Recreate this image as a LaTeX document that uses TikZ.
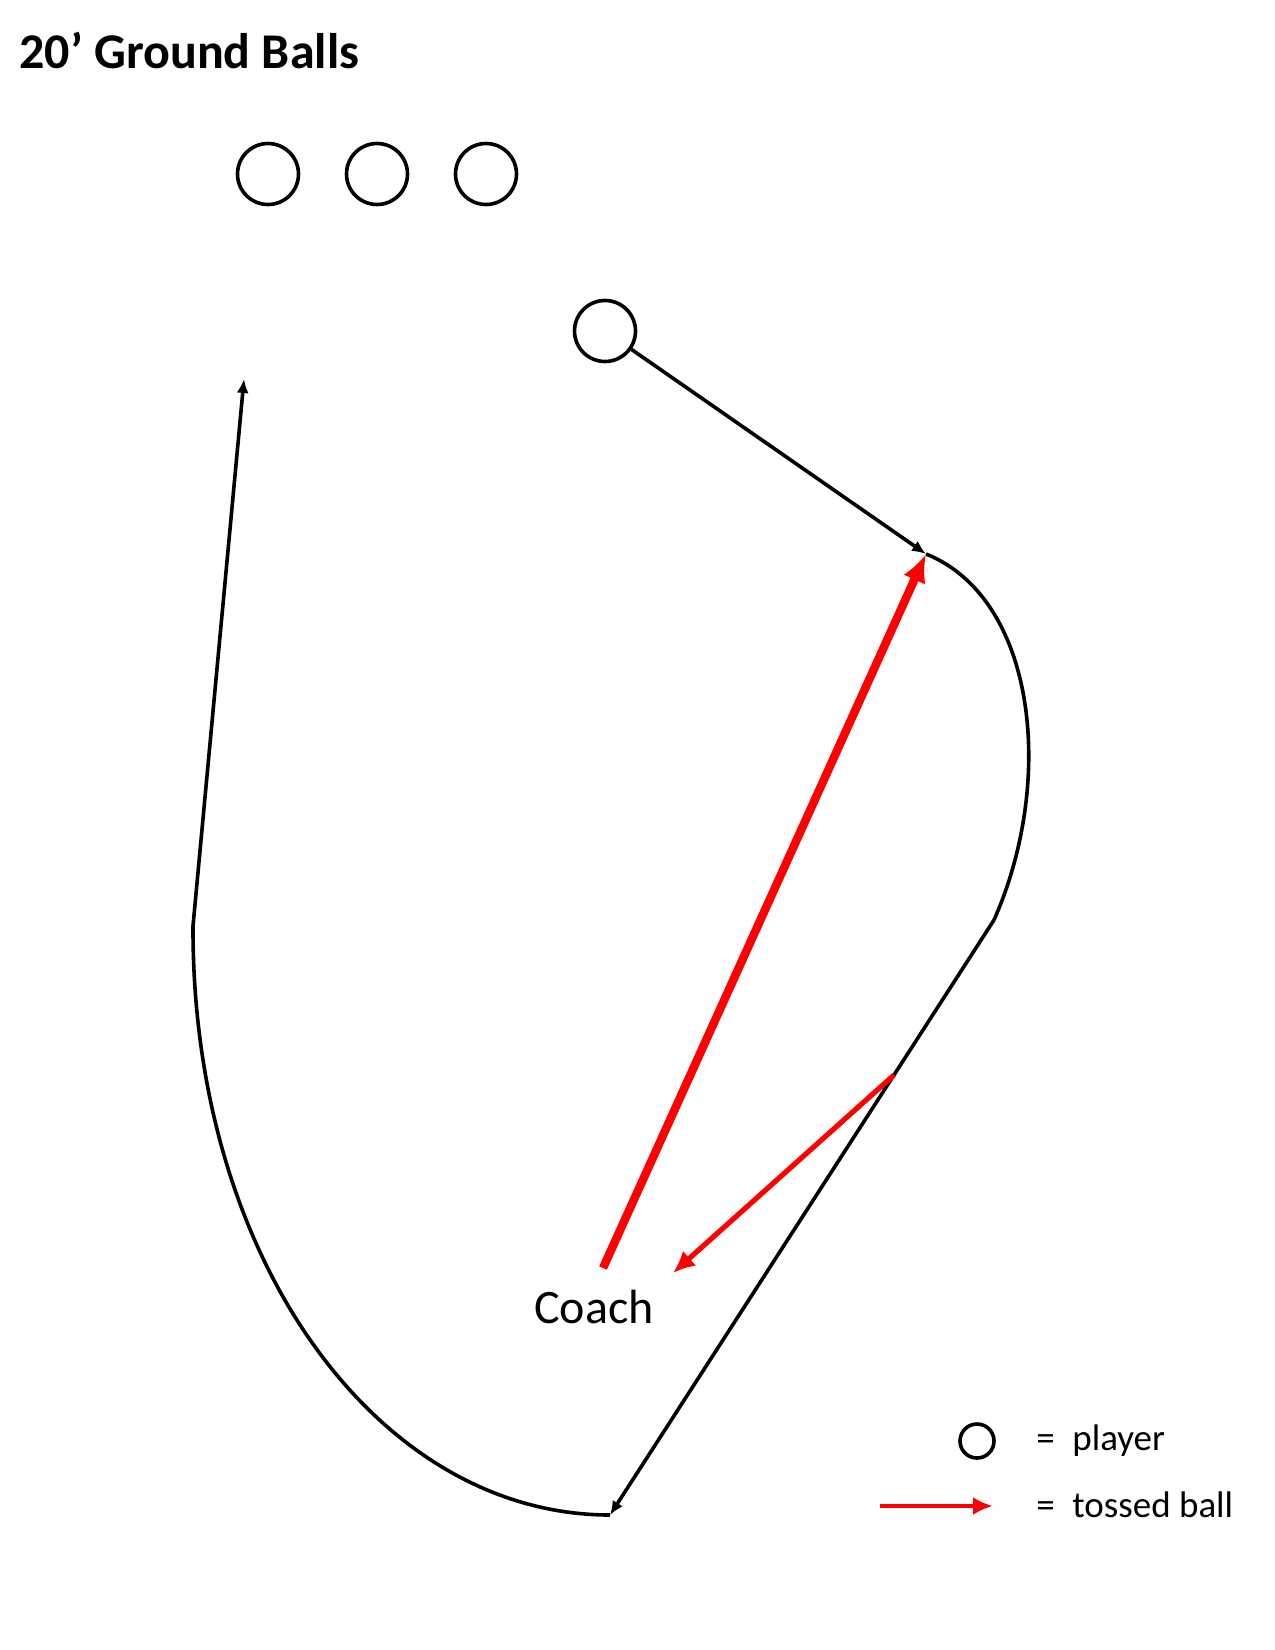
\documentclass[tikz,border=0pt]{standalone}
\usepackage{fontspec}
\setmainfont{Carlito}
\usetikzlibrary{arrows.meta}
\begin{document}
\begin{tikzpicture}[x=0.5pt,y=-0.5pt,
  player/.style={circle,draw,line width=1.8pt,minimum size=30.5pt,inner sep=0pt},
  path/.style={line width=1.8pt},
  run/.style={line width=1.8pt,-{Latex[length=7pt,width=6pt]}},
  toss/.style={red,line width=4.2pt,-{Latex[length=14pt,width=12pt]}},
  tossthin/.style={red,line width=2.6pt,-{Latex[length=11pt,width=10pt]}},
  lbl/.style={inner sep=0pt,anchor=base west,font=\fontsize{18.5}{22}\selectfont}]
\useasboundingbox (0,0) rectangle (1275,1650);
\node[anchor=base west,inner sep=0pt,font=\fontsize{25}{30}\selectfont\bfseries] (title) at (19,68) {20’ Ground Balls};
\node[player] (p1) at (268,174) {};
\node[player] (p2) at (377,174) {};
\node[player] (p3) at (486,174) {};
\node[player] (p4) at (605,331) {};
\coordinate (catch) at (926,554);
\coordinate (bend) at (994,920);
\coordinate (bottom) at (610,1515);
\coordinate (kink) at (193,926);
\coordinate (top) at (244,379);
\coordinate (tossA) at (603,1268);
\coordinate (tossB) at (894,1075);
\coordinate (tossC) at (673,1273);
\draw[run] (p4) -- (catch);
\draw[path] (catch) .. controls (1036,598) and (1056,780) .. (bend);
\draw[run] (bend) -- (bottom);
\draw[path] (kink) .. controls (192,1261) and (379,1515) .. (bottom);
\draw[run] (kink) -- (top);
\draw[toss] (tossA) -- (catch);
\draw[tossthin] (tossB) -- (tossC);
\node[anchor=base,inner sep=0pt,font=\fontsize{24}{28}\selectfont] (coach) at (594,1323) {Coach};
% legend
\node[player,minimum size=17pt] (lp) at (977,1441) {};
\node[lbl] (eq1) at (1036,1450) {=};
\node[lbl] (lplayer) at (1072,1450) {player};
\coordinate (la) at (880,1506);
\coordinate (lb) at (993,1506);
\draw[red,line width=2.2pt,-{Latex[length=10pt,width=9pt]}] (la) -- (lb);
\node[lbl] (eq2) at (1036,1517) {=};
\node[lbl] (lball) at (1072,1517) {tossed ball};
\end{tikzpicture}
\end{document}
